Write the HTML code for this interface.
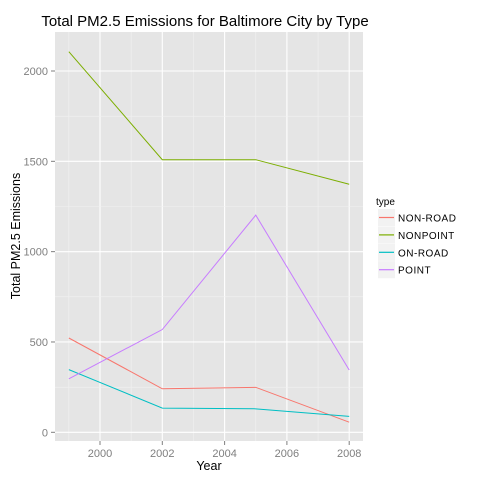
<!DOCTYPE html>
<html><head><meta charset="utf-8"><style>
body{margin:0;background:#fff}
text{font-family:"Liberation Sans",sans-serif}
</style></head><body>
<svg id="c" width="480" height="480" xmlns="http://www.w3.org/2000/svg">
<rect x="55" y="32" width="308" height="409" fill="#e5e5e5"/>
<g id="grid"></g><g id="lines"></g><g id="axes"></g>
<text x="205" y="26" font-size="15" text-anchor="middle">Total PM2.5 Emissions for Baltimore City by Type</text>
<text x="209" y="470" font-size="12.5" text-anchor="middle">Year</text>
<text transform="translate(20,236) rotate(-90)" font-size="12.5" text-anchor="middle">Total PM2.5 Emissions</text>
<g id="legend"></g>
</svg>
<script>
const years=[1999,2002,2005,2008];
const types=["NON-ROAD","NONPOINT","ON-ROAD","POINT"];
const colors=["#F8766D","#7CAE00","#00BFC4","#C77CFF"];
const nonRoad=[522,241,249,56];
const nonPoint=[2107,1509,1509,1373];
const onRoad=[347,134,130,88];
const point=[296,569,1202,345];
const series=[nonRoad,nonPoint,onRoad,point];
const xTicks=[2000,2002,2004,2006,2008];
const yTicks=[0,500,1000,1500,2000];
const NS="http://www.w3.org/2000/svg";
const X=v=>100+(v-2000)*31.15;
const Y=v=>432.3-v*0.18065;
function mk(t,a,p){const e=document.createElementNS(NS,t);for(const k in a)e.setAttribute(k,a[k]);p.appendChild(e);return e;}
const grid=document.getElementById('grid'),axes=document.getElementById('axes'),lines=document.getElementById('lines'),leg=document.getElementById('legend');
xTicks.forEach((t,i)=>{
 const m=mk('line',{x1:X(t-1),x2:X(t-1),y1:32,y2:441,stroke:'#f2f2f2','stroke-width':0.6},grid);
 
 const g=mk('line',{x1:X(t),x2:X(t),y1:32,y2:441,stroke:'#fff','stroke-width':1.1},grid);
 
 const tk=mk('line',{x1:X(t),x2:X(t),y1:441,y2:445,stroke:'#7f7f7f'},axes);
 
 const tx=mk('text',{x:X(t),y:457,'font-size':11,fill:'#7f7f7f','text-anchor':'middle'},axes);tx.textContent=t;
 
});
yTicks.forEach(t=>{
 if(Y(t+250)>32){
 const m=mk('line',{x1:55,x2:363,y1:Y(t+250),y2:Y(t+250),stroke:'#f2f2f2','stroke-width':0.6},grid);
 
 }
 const g=mk('line',{x1:55,x2:363,y1:Y(t),y2:Y(t),stroke:'#fff','stroke-width':1.1},grid);
 
 const tk=mk('line',{x1:51,x2:55,y1:Y(t),y2:Y(t),stroke:'#7f7f7f'},axes);
 
 const tx=mk('text',{x:48,y:Y(t)+4,'font-size':11,fill:'#7f7f7f','text-anchor':'end'},axes);tx.textContent=t;
 
});
series.forEach((s,i)=>{
 const p=mk('polyline',{points:s.map((v,j)=>X(years[j])+','+Y(v)).join(' '),fill:'none',stroke:colors[i],'stroke-width':1},lines);
 
});
const lt=mk('text',{x:376,y:205,'font-size':10},leg);lt.textContent='type';

types.forEach((t,i)=>{
 const y0=209+i*17.4;
 const g=mk('g',{},leg);
 
 mk('rect',{x:378,y:y0,width:17,height:17,fill:'#f2f2f2'},g);
 mk('line',{x1:379,x2:394,y1:y0+8.5,y2:y0+8.5,stroke:colors[i],'stroke-width':1.2},g);
 const tx=mk('text',{x:398,y:y0+12.5,'font-size':10,'letter-spacing':'0.5'},g);tx.textContent=t;
});
</script>
</body></html>
